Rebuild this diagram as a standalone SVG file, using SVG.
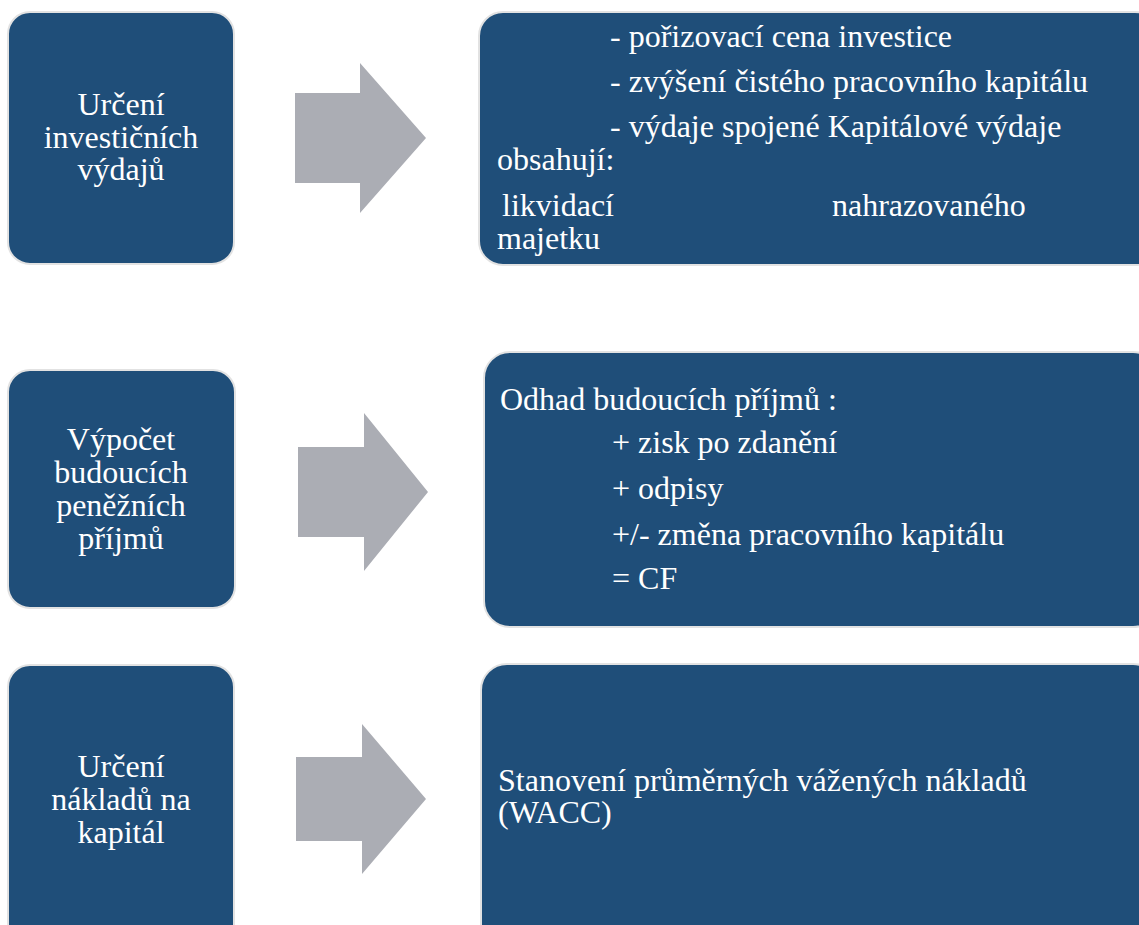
<svg xmlns="http://www.w3.org/2000/svg" width="1139" height="925" viewBox="0 0 1139 925">
<style>
.box{fill:#1F4E79;stroke:#E2E2E2;stroke-width:2}
.arrow{fill:#ABADB4}
.t{font-family:'Times New Roman','Liberation Serif',Tinos,'DejaVu Serif',serif;font-size:32px;fill:#FFFFFF}
.c{text-anchor:middle}
</style>
<rect width="1139" height="925" fill="#FFFFFF"/>
<g id="node-l1">
<rect class="box" x="8" y="12" width="226" height="252" rx="22"/>
<text class="t c" x="121" y="115">Určení</text>
<text class="t c" x="121" y="148">investičních</text>
<text class="t c" x="121" y="180">výdajů</text>
</g>
<g id="node-r1">
<rect class="box" x="479" y="12" width="680" height="253" rx="24"/>
<text class="t" x="610" y="47">- pořizovací cena investice</text>
<text class="t" x="610" y="92">- zvýšení čistého pracovního kapitálu</text>
<text class="t" x="610" y="137">- výdaje spojené Kapitálové výdaje</text>
<text class="t" x="497" y="170">obsahují:</text>
<text class="t" x="502" y="216">likvidací</text>
<text class="t" x="832" y="216">nahrazovaného</text>
<text class="t" x="497" y="249">majetku</text>
</g>
<g id="node-l2">
<rect class="box" x="8" y="370" width="227" height="238" rx="22"/>
<text class="t c" x="121" y="450">Výpočet</text>
<text class="t c" x="121" y="483">budoucích</text>
<text class="t c" x="121" y="516">peněžních</text>
<text class="t c" x="121" y="549">příjmů</text>
</g>
<g id="node-r2">
<rect class="box" x="484" y="352" width="675" height="275" rx="26"/>
<text class="t" x="500" y="410">Odhad budoucích příjmů :</text>
<text class="t" x="612" y="453">+ zisk po zdanění</text>
<text class="t" x="612" y="499">+ odpisy</text>
<text class="t" x="612" y="545">+/- změna pracovního kapitálu</text>
<text class="t" x="612" y="589">= CF</text>
</g>
<g id="node-l3">
<rect class="box" x="8" y="665" width="226" height="290" rx="22"/>
<text class="t c" x="121" y="777">Určení</text>
<text class="t c" x="121" y="810">nákladů na</text>
<text class="t c" x="121" y="843">kapitál</text>
</g>
<g id="node-r3">
<rect class="box" x="481" y="664" width="678" height="291" rx="26"/>
<text class="t" x="498" y="791">Stanovení průměrných vážených nákladů</text>
<text class="t" x="498" y="823">(WACC)</text>
</g>
<g id="connectors">
<polygon class="arrow" points="295,93 360,93 360,63 426,138 360,213 360,183 295,183"/>
<polygon class="arrow" points="298,447 364,447 364,413 428,492 364,571 364,537 298,537"/>
<polygon class="arrow" points="296,757 362,757 362,724 426,799 362,874 362,841 296,841"/>
</g>
</svg>
